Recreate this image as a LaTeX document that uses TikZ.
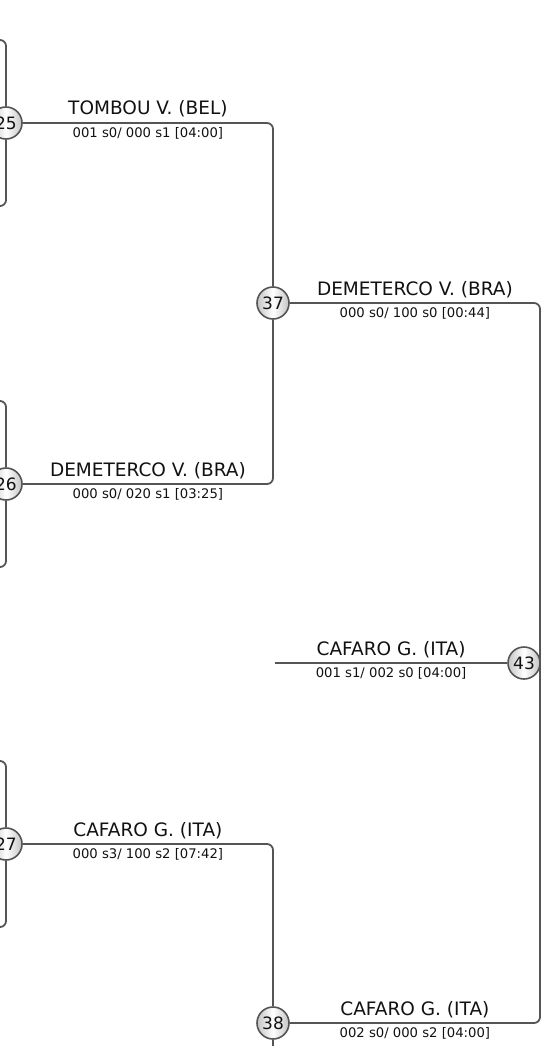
\documentclass[tikz,border=0pt]{standalone}
\usepackage{fontspec}
\setmainfont{DejaVu Sans}
\usepackage{xcolor}
\usepackage{tikz}
\definecolor{wiregray}{HTML}{555555}
\definecolor{inkblack}{HTML}{111111}
\definecolor{ballgray}{HTML}{C4C4C4}

\begin{document}
\begin{tikzpicture}[x=1pt, y=-1pt,
  wire/.style={draw=wiregray, line width=1.8pt, rounded corners=6pt},
  matchball/.style={circle, draw=wiregray, line width=1.6pt, minimum size=32pt,
    inner sep=0pt, left color=ballgray, right color=ballgray, middle color=white,
    text=inkblack, font=\fontsize{17}{17}\selectfont},
  fighter/.style={anchor=base, yshift=8pt, inner sep=0pt, text=inkblack,
    font=\fontsize{18.5}{20}\selectfont},
  score/.style={anchor=base, yshift=-14.5pt, inner sep=0pt, text=inkblack,
    font=\fontsize{13.2}{15}\selectfont}]
\useasboundingbox (0,0) rectangle (541,1046);

% match circles
\node[matchball] (m25) at (6,123) {25};
\node[matchball] (m26) at (6,484) {26};
\node[matchball] (m27) at (6,844) {27};
\node[matchball] (m37) at (273,303) {37};
\node[matchball] (m38) at (273,1023) {38};
\node[matchball] (m43) at (524,663) {43};

% free ends
\coordinate (t25) at (-10,40);
\coordinate (b25) at (-10,206);
\coordinate (t26) at (-10,401);
\coordinate (b26) at (-10,567);
\coordinate (t27) at (-10,761);
\coordinate (b27) at (-10,927);
\coordinate (s43) at (275,663);
\coordinate (k43) at (540,663);
\coordinate (b38) at (273,1060);

% earlier rounds
\draw[wire] (t25) -| (m25.north);
\draw[wire] (b25) -| (m25.south);
\draw[wire] (t26) -| (m26.north);
\draw[wire] (b26) -| (m26.south);
\draw[wire] (t27) -| (m27.north);
\draw[wire] (b27) -| (m27.south);

% winners
\draw[wire] (m25.east) -| (m37.north)
  node[fighter, pos=0.25] (f25) {TOMBOU V. (BEL)}
  node[score, pos=0.25] (r25) {001 s0/ 000 s1 [04:00]};
\draw[wire] (m26.east) -| (m37.south)
  node[fighter, pos=0.25] (f26) {DEMETERCO V. (BRA)}
  node[score, pos=0.25] (r26) {000 s0/ 020 s1 [03:25]};
\draw[wire] (m27.east) -| (m38.north)
  node[fighter, pos=0.25] (f27) {CAFARO G. (ITA)}
  node[score, pos=0.25] (r27) {000 s3/ 100 s2 [07:42]};
\draw[wire] (m37.east) -| (k43)
  node[fighter, pos=0.25] (f37) {DEMETERCO V. (BRA)}
  node[score, pos=0.25] (r37) {000 s0/ 100 s0 [00:44]};
\draw[wire] (m38.east) -| (k43)
  node[fighter, pos=0.25] (f38) {CAFARO G. (ITA)}
  node[score, pos=0.25] (r38) {002 s0/ 000 s2 [04:00]};
\draw[wire] (m38.south) -- (b38);
\draw[wire] (s43) -- (m43.west)
  node[fighter, midway] (f43) {CAFARO G. (ITA)}
  node[score, midway] (r43) {001 s1/ 002 s0 [04:00]};
\end{tikzpicture}
\end{document}
